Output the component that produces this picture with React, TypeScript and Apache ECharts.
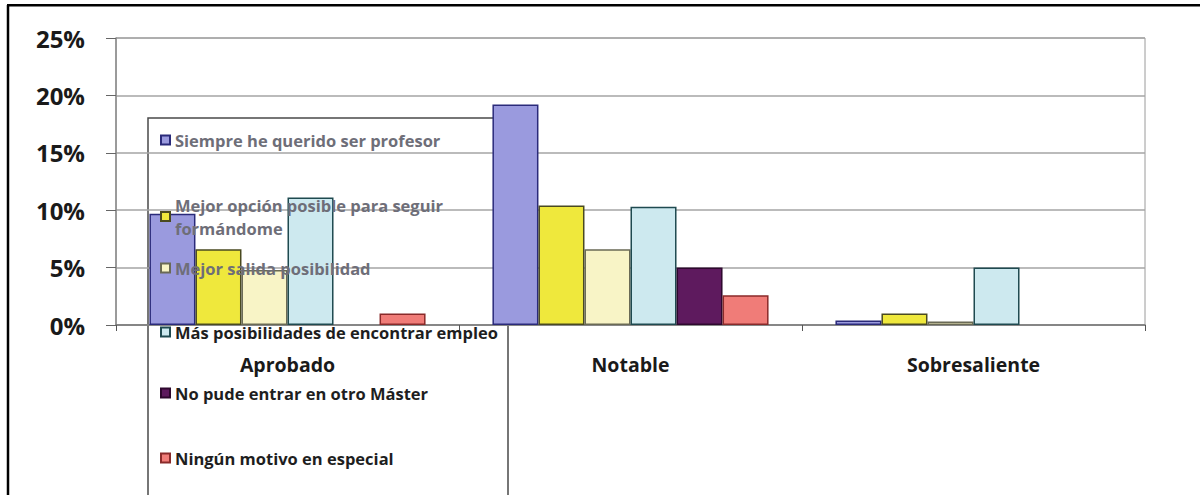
import React, { useEffect, useRef } from "react";
import * as echarts from "echarts";

const categories = ["Aprobado", "Notable", "Sobresaliente"];
const seriesNames = [
  "Siempre he querido ser profesor",
  "Mejor opción posible para seguir formándome",
  "Mejor salida posibilidad",
  "Más posibilidades de encontrar empleo",
  "No pude entrar en otro Máster",
  "Ningún motivo en especial",
];
const legendLabels = [
  "Siempre he querido ser profesor",
  "Mejor opción posible para seguir\nformándome",
  "Mejor salida posibilidad",
  "Más posibilidades de encontrar empleo",
  "No pude entrar en otro Máster",
  "Ningún motivo en especial",
];
// values in percent, per series, for Aprobado / Notable / Sobresaliente
const siempre = [9.7, 19.2, 0.4];
const mejorOpcion = [6.6, 10.4, 1.0];
const mejorSalida = [4.8, 6.6, 0.3];
const masPosibilidades = [11.1, 10.3, 5.0];
const noPude = [0, 5.0, 0];
const ningun = [1.0, 2.6, 0];
const seriesValues = [siempre, mejorOpcion, mejorSalida, masPosibilidades, noPude, ningun];
const yTicks = [0, 5, 10, 15, 20, 25];

const fills = ["#9a9ade", "#efe83c", "#f8f4c6", "#cde9ef", "#5e1a5e", "#f07c78"];
const borders = ["#2a2a7a", "#4a4a20", "#6a6a55", "#1f4a50", "#2e082e", "#8a2a2a"];
const legendTextColors = ["#6e6e78", "#6e6e78", "#6e6e78", "#1e1e1e", "#1e1e1e", "#1e1e1e"];
const legendTops = [130, 193.5, 258, 322, 383, 448];
const legendLineHeights = [20, 23, 20, 20, 20, 20];

const FONT = "'Open Sans', 'Noto Sans', sans-serif";

export default function App() {
  const ref = useRef<HTMLDivElement>(null);
  useEffect(() => {
    document.body.style.margin = "0";
    const chart = echarts.init(ref.current!, null, { renderer: "svg" });
    const option: any = {
      animation: false,
      backgroundColor: "#ffffff",
      grid: {
        left: 116,
        right: 55,
        top: 38,
        bottom: 170,
        show: true,
        borderColor: "#9a9a9a",
        borderWidth: 1,
        backgroundColor: "transparent",
      },
      legend: seriesNames.map((n, i) => ({
        data: [{ name: n, textStyle: { color: legendTextColors[i] } }],
        orient: "vertical",
        left: 160,
        top: legendTops[i],
        padding: 0,
        z: 4,
        icon: "rect",
        itemWidth: 9,
        itemHeight: 9,
        itemGap: 5,
        formatter: () => legendLabels[i],
        textStyle: {
          fontFamily: FONT,
          fontWeight: "bold",
          fontSize: 16.5,
          lineHeight: legendLineHeights[i],
          color: legendTextColors[i],
        },
        selectedMode: true,
      })),
      graphic: [
        {
          type: "rect",
          z: 0,
          shape: { x: 148, y: 118, width: 360, height: 400 },
          style: { fill: "transparent", stroke: "#4a4a4a", lineWidth: 1.5 },
        },
        {
          type: "line",
          z: 10,
          shape: { x1: 8, y1: 5, x2: 8, y2: 495 },
          style: { stroke: "#000", lineWidth: 2.5 },
        },
        {
          type: "line",
          z: 10,
          shape: { x1: 7, y1: 5.3, x2: 1200, y2: 5.3 },
          style: { stroke: "#000", lineWidth: 2.5 },
        },
      ],
      xAxis: {
        type: "category",
        data: categories,
        axisLine: { lineStyle: { color: "#7a7a7a", width: 1.5 } },
        axisTick: { show: true, length: 6, lineStyle: { color: "#555" } },
        axisLabel: {
          margin: 29,
          fontFamily: FONT,
          fontWeight: "bold",
          fontSize: 19.5,
          color: "#1a1a1a",
        },
        splitLine: { show: false },
      },
      yAxis: {
        type: "value",
        min: yTicks[0],
        max: yTicks[yTicks.length - 1],
        interval: 5,
        axisLine: { show: true, lineStyle: { color: "#8a8a8a", width: 1.5 } },
        axisTick: { show: true, length: 10, lineStyle: { color: "#666" } },
        axisLabel: {
          margin: 31,
          formatter: (v: number) => v + "%",
          fontFamily: FONT,
          fontWeight: "bold",
          fontSize: 24,
          color: "#1a1a1a",
        },
        splitLine: { show: true, lineStyle: { color: "#a4a4a4", width: 1.5 } },
      },
      series: seriesNames.map((n, i) => ({
        name: n,
        type: "bar",
        data: seriesValues[i].map((v) =>
          v === 0 ? { value: v, itemStyle: { borderWidth: 0, opacity: 0 } } : v
        ),
        barGap: "0%",
        barCategoryGap: "19.5%",
        itemStyle: { color: fills[i], borderColor: borders[i], borderWidth: 1.5 },
      })),
    };
    chart.setOption(option);
    return () => chart.dispose();
  }, []);
  return (
    <div
      ref={ref}
      style={{ position: "fixed", left: 0, top: 0, width: 1200, height: 495 }}
    />
  );
}
